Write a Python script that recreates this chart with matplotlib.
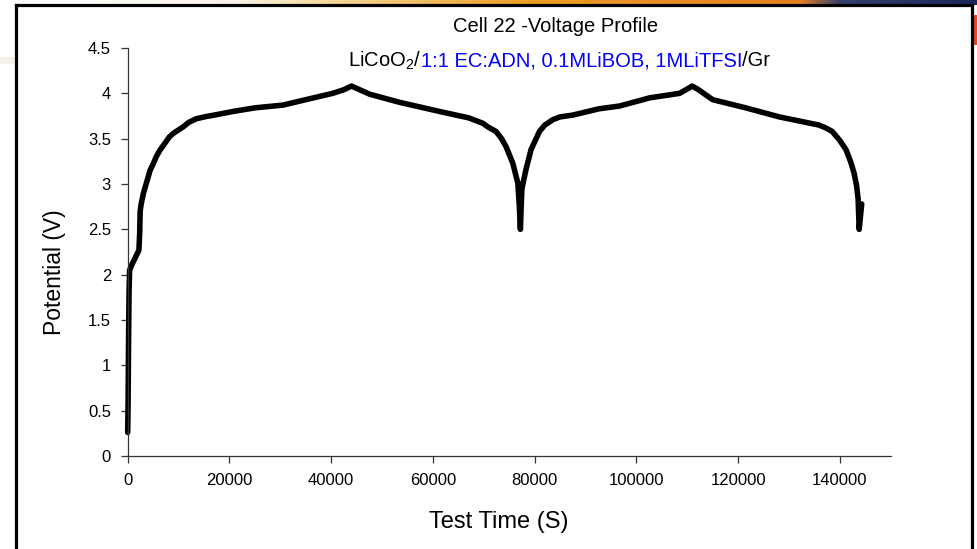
import numpy as np
import matplotlib.pyplot as plt
from matplotlib.lines import Line2D

plt.rcParams['font.family'] = ['Liberation Sans', 'DejaVu Sans']
plt.rcParams['mathtext.fontset'] = 'custom'
plt.rcParams['mathtext.rm'] = 'Liberation Sans'
plt.rcParams['mathtext.it'] = 'Liberation Sans'

# test time (s) and cell potential (V) read along the two cycles
time_s = [0, 80, 160, 260, 380, 900, 1600, 2200, 2350, 2450, 2650, 3100,
          4400, 5000, 5600, 6300, 7700, 8200, 9000, 10900, 12000, 13500,
          15500, 17000, 20700, 25000, 30500, 35000, 40300, 42500, 44000,
          45200, 47600, 53500, 61300, 67000, 69800, 70800, 72400, 73500,
          74400, 75700, 76200, 76700, 77000, 77200, 77350, 77500, 78300,
          79300, 80950, 82000, 83600, 85000, 87500, 92700, 96700, 102600,
          108500, 111000, 112200, 115000, 121500, 128100, 135900, 137200,
          138500, 140000, 141200, 142100, 142800, 143300, 143600, 143800,
          144300]
potential_v = [0.26, 0.6, 1.2, 1.8, 2.05, 2.12, 2.2, 2.27, 2.45, 2.7, 2.78,
               2.9, 3.15, 3.22, 3.3, 3.37, 3.48, 3.52, 3.56, 3.63, 3.68,
               3.72, 3.745, 3.76, 3.80, 3.84, 3.87, 3.93, 4.00, 4.04, 4.08,
               4.05, 3.99, 3.90, 3.80, 3.73, 3.67, 3.63, 3.58, 3.50, 3.41,
               3.23, 3.12, 3.01, 2.75, 2.5, 2.75, 2.95, 3.16, 3.38, 3.58,
               3.65, 3.71, 3.74, 3.76, 3.83, 3.86, 3.95, 4.00, 4.08, 4.04,
               3.93, 3.84, 3.74, 3.65, 3.62, 3.58, 3.48, 3.38, 3.25, 3.12,
               2.98, 2.83, 2.5, 2.78]

x_ticks = [0, 20000, 40000, 60000, 80000, 100000, 120000, 140000]
y_ticks = [0, 0.5, 1, 1.5, 2, 2.5, 3, 3.5, 4, 4.5]
y_tick_labels = ['0', '0.5', '1', '1.5', '2', '2.5', '3', '3.5', '4', '4.5']

title = 'Cell 22 -Voltage Profile'
subtitle_parts = [('LiCoO$_2$/', 'black'),
                  ('1:1 EC:ADN, 0.1MLiBOB, 1MLiTFSI', '#0000FF'),
                  ('/Gr', 'black')]

W, H = 977, 549
fig = plt.figure(figsize=(W / 100, H / 100), dpi=100)
fig.patch.set_facecolor('white')

# slide banner strip across the top edge
band = fig.add_axes([0, 1 - 5 / H, 1, 5 / H])
stops = np.array([0, 230, 330, 520, 800, 840, 977]) / W
cols = np.array([[1.0, 1.0, 1.0], [0.98, 0.96, 0.92], [0.96, 0.85, 0.60],
                 [0.93, 0.62, 0.15], [0.90, 0.50, 0.12], [0.20, 0.25, 0.42],
                 [0.10, 0.16, 0.35]])
xs = np.linspace(0, 1, W)
grad = np.stack([np.interp(xs, stops, cols[:, k]) for k in range(3)], axis=-1)
band.imshow(grad[None, :, :], aspect='auto', extent=[0, 1, 0, 1])
band.axis('off')

# faint stripe on the left margin and red tab on the right margin
fig.add_artist(plt.Rectangle((0, 1 - 64 / H), 15 / W, 7 / H,
                             transform=fig.transFigure, color='#f3f1ea', lw=0))
fig.add_artist(plt.Rectangle((974 / W, 1 - 45 / H), 3 / W, 30 / H,
                             transform=fig.transFigure, color='#e04a1a', lw=0))

# chart frame (open at the bottom)
fx = lambda p: p / W
fy = lambda p: 1 - p / H
for xx, yy in [([16, 16], [5, 549]), ([16, 972], [5, 5]), ([972, 972], [5, 549])]:
    fig.add_artist(Line2D([fx(v) for v in xx], [fy(v) for v in yy],
                          transform=fig.transFigure, color='black', lw=2.3))

ax = fig.add_axes([127.7 / W, 1 - 456 / H, (890.7 - 127.7) / W, (456 - 48) / H])
ax.plot(time_s, potential_v, color='black', lw=4.0,
        solid_joinstyle='round', solid_capstyle='round', clip_on=False)

ax.set_xlim(0, 150000)
ax.set_ylim(0, 4.5)
ax.set_xticks(x_ticks)
ax.set_xticklabels([str(v) for v in x_ticks])
ax.set_yticks(y_ticks)
ax.set_yticklabels(y_tick_labels)
for s in ['top', 'right']:
    ax.spines[s].set_visible(False)
for s in ['left', 'bottom']:
    ax.spines[s].set_color('#333333')
    ax.spines[s].set_linewidth(0.9)
ax.tick_params(direction='out', length=5, width=0.9, color='#333333',
               labelsize=12, pad=7)
ax.set_facecolor('none')

fig.text(55 / W, fy(272), 'Potential (V)', rotation=90, ha='center',
         va='center', fontsize=16.5)
fig.text(499 / W, fy(522), 'Test Time (S)', ha='center', va='center',
         fontsize=17)
fig.text(556 / W, fy(26), title, ha='center', va='center', fontsize=14.5)

# subtitle with coloured middle part, laid out piece by piece
renderer = fig.canvas.get_renderer()
pieces = [fig.text(0, fy(61), s, color=c, fontsize=14.5, va='center')
          for s, c in subtitle_parts]
widths = [p.get_window_extent(renderer).width for p in pieces]
x0 = 559 - sum(widths) / 2
for p, w in zip(pieces, widths):
    p.set_x(x0 / W)
    x0 += w

fig.savefig('out.png', dpi=100)
